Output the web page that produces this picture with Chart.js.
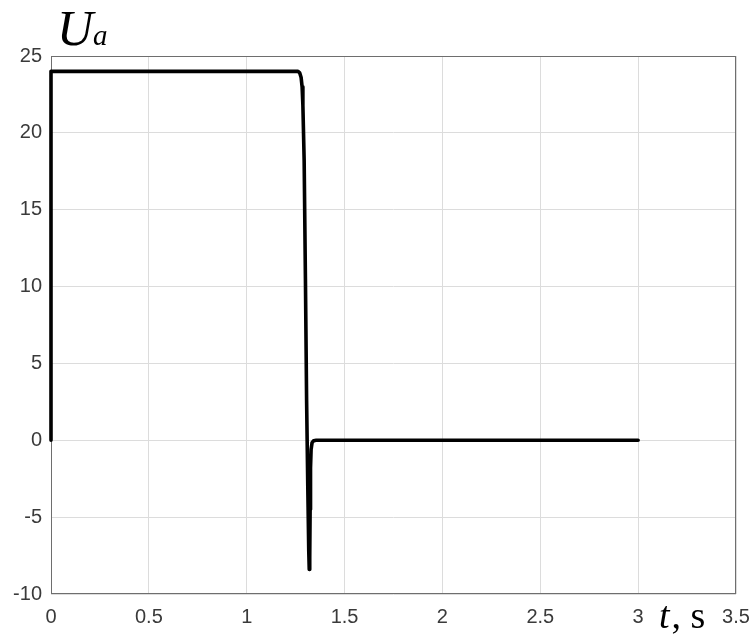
<!DOCTYPE html>
<html>
<head>
<meta charset="utf-8">
<script src="https://cdn.jsdelivr.net/npm/chart.js@4.4.0/dist/chart.umd.min.js"></script>
<style>
html,body{margin:0;padding:0;background:#fff;}
#wrap{width:751px;height:637px;position:relative;}
</style>
</head>
<body>
<div id="wrap"><canvas id="c" width="751" height="637"></canvas></div>
<script>
// Time (s) and armature voltage Ua
const timeValues = [0, 0, 1.262, 1.271, 1.278, 1.283, 1.287, 1.2935, 1.300, 1.306, 1.312, 1.317, 1.3195, 1.322, 1.324, 1.326, 1.329, 1.334, 1.342, 1.355, 3.0];
const voltageValues = [0, 24, 24, 23.9, 23.6, 23.0, 21.8, 18.2, 10.5, 2.6, -3, -7.2, -8.4, -7.6, -4.5, -1.8, -0.6, -0.15, -0.03, 0, 0];
const xTicks = [0, 0.5, 1, 1.5, 2, 2.5, 3, 3.5];
const yTicks = [-10, -5, 0, 5, 10, 15, 20, 25];
const yLabel = ['U', 'a'];
const xLabel = ['t', ', s'];

const points = timeValues.map((t, i) => ({x: t, y: voltageValues[i]}));

const framePlugin = {
  id: 'frame',
  beforeDatasetsDraw(chart) {
    const {ctx, chartArea: a} = chart;
    ctx.save();
    ctx.strokeStyle = '#6e6e6e';
    ctx.lineWidth = 1;
    ctx.strokeRect(a.left + 0.5, a.top + 0.5, a.right - a.left - 1, a.bottom - a.top - 1);
    ctx.restore();
  },
  afterDraw(chart) {
    const {ctx} = chart;
    ctx.save();
    ctx.fillStyle = '#000';
    ctx.textBaseline = 'alphabetic';
    ctx.textAlign = 'left';
    ctx.font = 'italic 50px "Liberation Serif"';
    ctx.fillText(yLabel[0], 57, 45);
    const uw = ctx.measureText(yLabel[0]).width;
    ctx.font = 'italic 29px "Liberation Serif"';
    ctx.fillText(yLabel[1], 57 + uw, 45);
    ctx.font = 'italic 38px "Liberation Serif"';
    ctx.fillText(xLabel[0], 659, 628);
    const tw = ctx.measureText(xLabel[0]).width;
    ctx.font = '38px "Liberation Serif"';
    ctx.fillText(xLabel[1], 659 + tw + 2, 628);
    ctx.restore();
  }
};

new Chart(document.getElementById('c'), {
  type: 'line',
  data: {
    datasets: [{
      data: points,
      borderColor: '#000',
      borderWidth: 3.6,
      pointRadius: 0,
      tension: 0,
      fill: false,
      clip: 6,
      borderJoinStyle: 'round',
      borderCapStyle: 'round'
    }]
  },
  options: {
    responsive: false,
    animation: false,
    layout: {padding: {top: 56, right: 15, left: 0, bottom: 0}},
    plugins: {legend: {display: false}, tooltip: {enabled: false}},
    scales: {
      x: {
        type: 'linear',
        min: 0, max: 3.5,
        afterBuildTicks: s => { s.ticks = xTicks.map(v => ({value: v})); },
        afterFit: s => { s.height = 43; s.paddingLeft = 0; s.paddingRight = 0; },
        grid: {color: '#dcdcdc', lineWidth: 1, drawTicks: false},
        border: {display: false},
        ticks: {
          color: '#3a3a3a',
          font: {family: '"Liberation Sans", Arial', size: 20},
          padding: 11,
          maxRotation: 0,
          autoSkip: false,
          callback: v => String(v)
        }
      },
      y: {
        type: 'linear',
        min: -10, max: 25,
        afterBuildTicks: s => { s.ticks = yTicks.map(v => ({value: v})); },
        afterFit: s => { s.width = 51; s.paddingTop = 0; s.paddingBottom = 0; },
        grid: {color: '#dcdcdc', lineWidth: 1, drawTicks: false},
        border: {display: false},
        ticks: {
          color: '#3a3a3a',
          font: {family: '"Liberation Sans", Arial', size: 20},
          padding: 9,
          autoSkip: false,
          callback: v => String(v)
        }
      }
    }
  },
  plugins: [framePlugin]
});
</script>
</body>
</html>
